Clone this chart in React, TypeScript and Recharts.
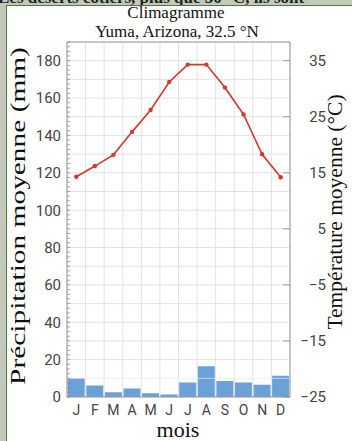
import React from 'react';
import { ComposedChart, Bar, Line, XAxis, YAxis, CartesianGrid, ReferenceLine } from 'recharts';

const months = ['J', 'F', 'M', 'A', 'M', 'J', 'J', 'A', 'S', 'O', 'N', 'D'];
const precipitation = [10, 6.2, 2.5, 4.6, 2.0, 1.4, 7.7, 16.5, 8.5, 7.7, 6.6, 11.4];
const temperature = [14.3, 16.2, 18.2, 22.3, 26.2, 31.2, 34.3, 34.3, 30.2, 25.4, 18.3, 14.2];
const precipLabels = [0, 20, 40, 60, 80, 100, 120, 140, 160, 180];
const precipMinorTicks = Array.from({ length: 77 }, (_, i) => i * 2.5);
const tempTicks = [-25, -15, -5, 5, 15, 25, 35];
const precipDomain = [0, 190];
const tempDomain = [-25, 38.333];

const data = months.map((m, i) => ({ month: m, precip: precipitation[i], temp: temperature[i] }));

const W = 352;
const H = 441;
const SANS = 'Roboto, "Liberation Sans", sans-serif';
const SERIF = '"Liberation Serif", "DejaVu Serif", serif';

const LeftTick = (props: any) => {
  const { x, y, payload } = props;
  const v = payload.value;
  const isLabel = precipLabels.includes(v);
  return (
    <g>
      <line x1={x} x2={x + 3} y1={y} y2={y} stroke="#8a8a8a" strokeWidth={0.8} />
      {isLabel && (
        <text x={x - 6} y={y} dy="0.36em" textAnchor="end" fontSize={15} fill="#444" fontFamily={SANS}>
          {v}
        </text>
      )}
    </g>
  );
};

const RightTick = (props: any) => {
  const { x, y, payload } = props;
  const v = payload.value;
  const label = v < 0 ? '\u2212' + Math.abs(v) : String(v);
  return (
    <g>
      <line x1={x - 7} x2={x} y1={y} y2={y} stroke="#8a8a8a" strokeWidth={0.8} />
      <text x={x + 36} y={y} dy="0.36em" textAnchor="end" fontSize={15} fill="#444" fontFamily={SANS}>
        {label}
      </text>
    </g>
  );
};

const vGen = ({ offset }: any) => Array.from({ length: 13 }, (_, i) => offset.left + (offset.width * i) / 12);
const hGen = ({ offset }: any) => Array.from({ length: 20 }, (_, i) => offset.top + (offset.height * i) / 19);

export default function App() {
  return (
    <div style={{ position: 'absolute', left: 0, top: 0, width: W, height: H, overflow: 'hidden', background: '#c3c8bb' }}>
      <div style={{ position: 'absolute', left: 0, top: 0, width: W, height: 5, overflow: 'hidden' }}>
        <div
          style={{
            position: 'absolute',
            left: -2,
            top: -11,
            whiteSpace: 'nowrap',
            fontFamily: SERIF,
            fontSize: 17,
            lineHeight: '17px',
            fontWeight: 'bold',
            color: '#222',
          }}
        >
          Les déserts côtiers, plus que 30 °C, ils sont
        </div>
      </div>
      <div
        style={{
          position: 'absolute',
          left: 6,
          top: 5,
          right: 0,
          bottom: 0,
          background: '#ffffff',
          borderLeft: '1.5px solid #4d7a3e',
          borderTop: '1.5px solid #4d7a3e',
        }}
      />
      <div style={{ position: 'absolute', left: 0, top: 0 }}>
        <ComposedChart
          width={W}
          height={H}
          data={data}
          margin={{ top: 42, right: 22, bottom: 14, left: 12 }}
          barCategoryGap={0.7}
        >
          <CartesianGrid
            stroke="#e2e2e2"
            strokeWidth={1}
            verticalCoordinatesGenerator={vGen}
            horizontalCoordinatesGenerator={hGen}
          />
          <XAxis
            dataKey="month"
            tickLine={false}
            axisLine={{ stroke: '#9a9a9a' }}
            height={30}
            tick={{ fill: '#444', fontSize: 14, fontFamily: SANS }}
            interval={0}
          />
          <YAxis
            yAxisId="left"
            orientation="left"
            width={55}
            domain={precipDomain}
            ticks={precipMinorTicks}
            interval={0}
            tickSize={0}
            tickMargin={0}
            tickLine={false}
            axisLine={{ stroke: '#9a9a9a' }}
            tick={<LeftTick />}
            allowDataOverflow
          />
          <YAxis
            yAxisId="right"
            orientation="right"
            width={40}
            domain={tempDomain}
            ticks={tempTicks}
            interval={0}
            tickSize={0}
            tickMargin={0}
            tickLine={false}
            axisLine={{ stroke: '#9a9a9a' }}
            tick={<RightTick />}
            allowDataOverflow
          />
          <Bar yAxisId="left" dataKey="precip" fill="#6ba0d8" isAnimationActive={false} />
          <ReferenceLine yAxisId="left" y={10} stroke="rgba(255,255,255,0.55)" strokeWidth={1} />
          <ReferenceLine yAxisId="left" y={190} stroke="#9a9a9a" strokeWidth={1} />
          <Line
            yAxisId="right"
            dataKey="temp"
            stroke="#d2382e"
            strokeWidth={1.6}
            dot={{ r: 2.2, fill: '#d2382e', stroke: 'none' }}
            isAnimationActive={false}
          />
        </ComposedChart>
      </div>
      <svg width={W} height={H} style={{ position: 'absolute', left: 0, top: 0, pointerEvents: 'none' }}>
        <text x={176} y={18} textAnchor="middle" fontSize={17} fontFamily={SERIF} fill="#111">
          Climagramme
        </text>
        <text x={177} y={37} textAnchor="middle" fontSize={17} fontFamily={SERIF} fill="#111">
          Yuma, Arizona, 32.5 °N
        </text>
        <text transform="translate(25,216) rotate(-90) scale(1.4,1)" textAnchor="middle" fontSize={21} fontFamily={SERIF} fill="#111">
          Précipitation moyenne (mm)
        </text>
        <text transform="translate(342,212) rotate(-90)" textAnchor="middle" fontSize={21.5} fontFamily={SERIF} fill="#111">
          Température moyenne (°C)
        </text>
        <text x={178} y={437} textAnchor="middle" fontSize={22} fontFamily={SERIF} fill="#111">
          mois
        </text>
      </svg>
    </div>
  );
}
